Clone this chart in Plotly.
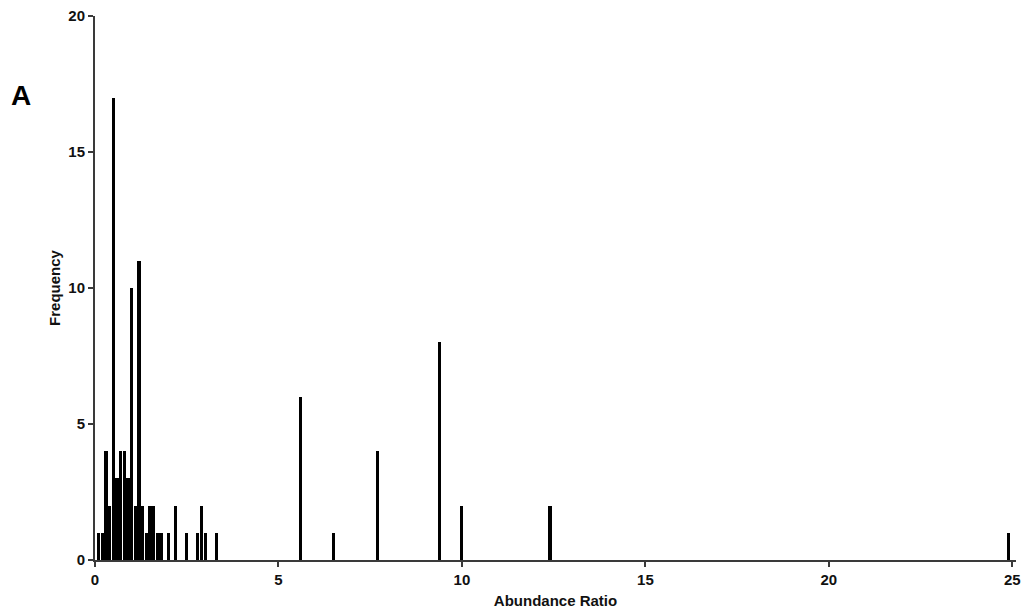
import plotly.graph_objects as go

# Histogram bins (bin centre of abundance ratio) and their frequencies
ratio = [0.1, 0.2, 0.3, 0.4, 0.5, 0.6, 0.7, 0.8, 0.9, 1.0, 1.1, 1.2, 1.3, 1.4,
         1.5, 1.6, 1.7, 1.8, 2.0, 2.2, 2.5, 2.8, 2.9, 3.0, 3.3,
         5.6, 6.5, 7.7, 9.4, 10.0, 12.4, 24.9]
frequency = [1, 1, 4, 2, 17, 3, 4, 4, 3, 10, 2, 11, 2, 1,
             2, 2, 1, 1, 1, 2, 1, 1, 2, 1, 1,
             6, 1, 4, 8, 2, 2, 1]

x_ticks = [0, 5, 10, 15, 20, 25]
y_ticks = [0, 5, 10, 15, 20]

axis_col = "#3a3a3a"
font_fam = "Liberation Sans, Arial, sans-serif"

fig = go.Figure()
fig.add_trace(go.Bar(
    x=ratio, y=frequency, width=0.085,
    marker=dict(color="black", line=dict(width=0)),
    showlegend=False,
))

fig.update_layout(
    width=1031, height=609,
    margin=dict(l=95, r=15, t=16, b=49, autoexpand=False),
    paper_bgcolor="white", plot_bgcolor="white",
    font=dict(family=font_fam, color="#111111"),
    bargap=0,
    xaxis=dict(
        range=[0, 25.1], tickvals=x_ticks, ticktext=[f"<b>{v}</b>" for v in x_ticks],
        showline=True, linecolor=axis_col, linewidth=2,
        ticks="outside", ticklen=5, tickwidth=2, tickcolor=axis_col,
        showgrid=False, zeroline=False, automargin=False,
        ticklabeloverflow="allow",
        tickfont=dict(size=15, family=font_fam),
        title=dict(text="<b>Abundance Ratio</b>", font=dict(size=15, family=font_fam), standoff=9),
    ),
    yaxis=dict(
        range=[0, 20], tickvals=y_ticks, ticktext=[f"<b>{v}</b>" for v in y_ticks],
        showline=True, linecolor=axis_col, linewidth=2,
        ticks="outside", ticklen=5, tickwidth=2, tickcolor=axis_col,
        showgrid=False, zeroline=False, automargin=False,
        ticklabeloverflow="allow",
        tickfont=dict(size=15, family=font_fam),
        title=dict(text="<b>Frequency</b>", font=dict(size=15, family=font_fam), standoff=4),
    ),
)

fig.add_annotation(
    text="<b>A</b>", xref="paper", yref="paper", x=-0.093, y=0.853,
    xanchor="left", yanchor="middle", showarrow=False,
    font=dict(size=28, family=font_fam, color="black"),
)

fig.write_html(
    "out.html",
    config={"displayModeBar": False},
    post_script="document.body.style.margin='0';document.body.style.overflow='hidden';",
)
